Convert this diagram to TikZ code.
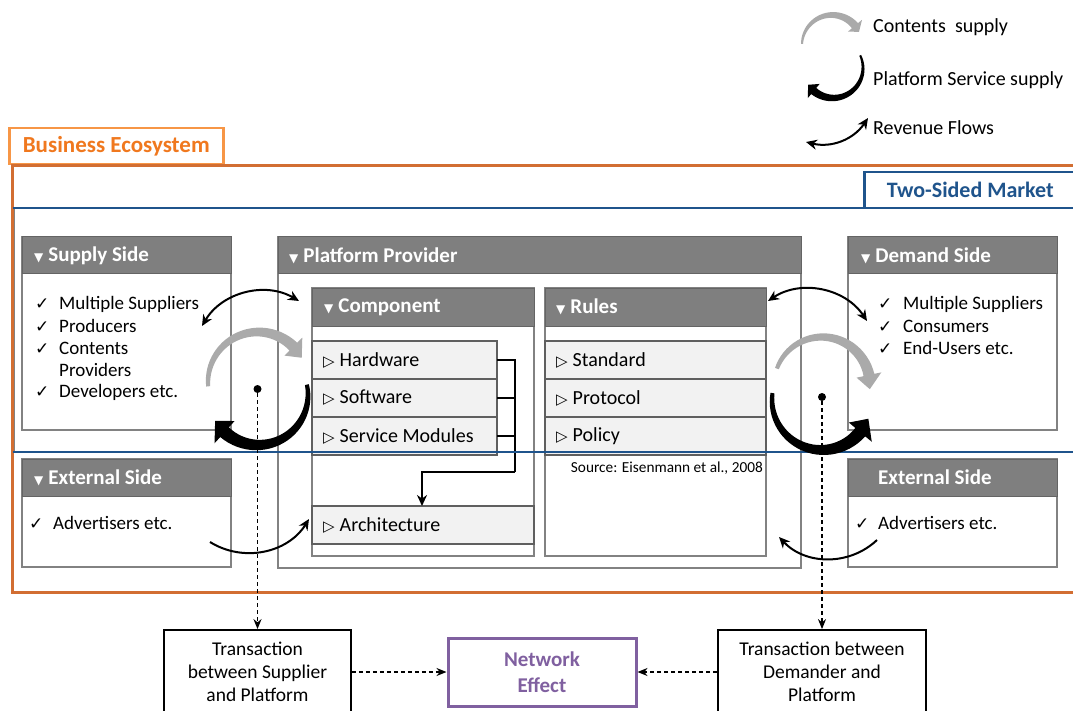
\documentclass[tikz,border=0pt]{standalone}
\usepackage{fontspec}
\setmainfont{Carlito}
\newfontfamily\dv{DejaVu Sans}
\usetikzlibrary{arrows.meta,calc}
\definecolor{orL}{RGB}{247,150,70}
\definecolor{orT}{RGB}{240,120,30}
\definecolor{orD}{RGB}{210,110,50}
\definecolor{blueC}{RGB}{31,84,140}
\definecolor{hgrey}{RGB}{127,127,127}
\definecolor{bdr}{RGB}{100,100,100}
\definecolor{bgrey}{RGB}{130,130,130}
\definecolor{rowF}{RGB}{242,242,242}
\definecolor{rowB}{RGB}{95,95,95}
\definecolor{purp}{RGB}{128,96,160}
\definecolor{agrey}{RGB}{170,170,170}
\newcommand\chk{{\dv\fontsize{17}{17}\selectfont ✓}}
\newcommand\dtri{{\dv\fontsize{12}{12}\selectfont ▼}\hspace{5pt}}
\newcommand\rtri{{\dv\fontsize{15}{15}\selectfont ▷}\hspace{5pt}}
% tapered curved arrow: cx, cy, R, a1, a2, w1, w2, colour, head delta
\newcommand\tarr[9]{%
 \fill[#8] plot[domain=0:1,samples=30,variable=\t]
   ({#1+(#3+((#6)+((#7)-(#6))*\t)/2)*cos((#4)+((#5)-(#4))*\t)},{#2-(#3+((#6)+((#7)-(#6))*\t)/2)*sin((#4)+((#5)-(#4))*\t)})
 -- ({#1+(#3+1.15*(#7))*cos(#5)},{#2-(#3+1.15*(#7))*sin(#5)})
 -- ({#1+(#3)*cos((#5)+(#9))},{#2-(#3)*sin((#5)+(#9))})
 -- ({#1+(#3-1.15*(#7))*cos(#5)},{#2-(#3-1.15*(#7))*sin(#5)})
 -- plot[domain=0:1,samples=30,variable=\t]
   ({#1+(#3-((#7)+((#6)-(#7))*\t)/2)*cos((#5)+((#4)-(#5))*\t)},{#2-(#3-((#7)+((#6)-(#7))*\t)/2)*sin((#5)+((#4)-(#5))*\t)})
 -- cycle;}
\begin{document}
\begin{tikzpicture}[x=1pt,y=-1pt,
  hdr/.style={draw=bdr,fill=hgrey,line width=1,inner sep=0,outer sep=0,anchor=north west},
  body/.style={draw=bgrey,fill=white,line width=1.3,inner sep=0,outer sep=0,anchor=north west},
  rowbox/.style={draw=rowB,fill=rowF,line width=1.3,inner sep=0,outer sep=0,anchor=north west},
  htxt/.style={anchor=west,text=white,font=\bfseries\fontsize{21}{24}\selectfont,inner sep=0},
  ltxt/.style={anchor=west,font=\fontsize{19}{22}\selectfont,inner sep=0},
  rtxt/.style={anchor=west,font=\fontsize{20}{22}\selectfont,inner sep=0},
  gtxt/.style={anchor=west,font=\fontsize{20}{22}\selectfont,inner sep=0},
  rev/.style={line width=2,{Stealth[length=11pt,width=10pt]}-{Stealth[length=11pt,width=10pt]}},
  revone/.style={line width=2,-{Stealth[length=11pt,width=10pt]}},
  dsh/.style={dash pattern=on 4pt off 3pt,line width=1.6,-{Stealth[length=10pt,width=8pt]}},
  tbox/.style={draw=black,line width=1.8,fill=white,align=center,font=\fontsize{19.5}{23}\selectfont,inner sep=0}
]
\useasboundingbox (0,0) rectangle (1073,711);

% ---------- legend ----------
\tarr{832}{45}{30}{178}{40}{2}{8}{agrey}{-14}
\tarr{833}{68}{30}{25}{-130}{2}{8}{black}{-16}
\coordinate (lr1) at (806,142);
\coordinate (lr2) at (868,118);
\draw[rev] (lr1) to[bend right=35] (lr2);
\node[gtxt] (lg1) at (873,27) {Contents\ \ supply};
\node[gtxt] (lg2) at (873,80) {Platform Service supply};
\node[gtxt] (lg3) at (873,128) {Revenue Flows};

% ---------- ecosystem frames ----------
\node[draw=orL,line width=2.5,fill=white,minimum width=214,minimum height=36,anchor=north west,inner sep=0,
      text=orT,font=\bfseries\fontsize{23}{24}\selectfont] (be) at (8,127) {Business Ecosystem};
\draw[orD,line width=3] (12,166) rectangle (1090,592);
\draw[bgrey,line width=0.8] (14,209) -- (14,451);

% ---------- supply side ----------
\node[body,minimum width=209,minimum height=193] (supb) at (22,237) {};
\node[hdr,minimum width=209,minimum height=37] (suph) at (22,237) {};
\node[htxt] (supt) at (34,255.5) {\dtri Supply Side};
\node[ltxt] (s1) at (35,304) {\makebox[24pt][l]{\chk}Multiple Suppliers};
\node[ltxt] (s2) at (35,326) {\makebox[24pt][l]{\chk}Producers};
\node[ltxt] (s3) at (35,348) {\makebox[24pt][l]{\chk}Contents};
\node[ltxt] (s4) at (35,370) {\makebox[24pt][l]{}Providers};
\node[ltxt] (s5) at (35,392) {\makebox[24pt][l]{\chk}Developers etc.};

% ---------- external side left ----------
\node[body,minimum width=209,minimum height=108] (elb) at (22,459) {};
\node[hdr,minimum width=209,minimum height=37] (elh) at (22,459) {};
\node[htxt] (elt) at (34,477.5) {\dtri External Side};
\node[ltxt] (el1) at (29,523) {\makebox[24pt][l]{\chk}Advertisers etc.};

% ---------- demand side ----------
\node[body,minimum width=209,minimum height=193] (demb) at (848,237) {};
\node[hdr,minimum width=209,minimum height=37] (demh) at (848,237) {};
\node[htxt] (demt) at (861,255.5) {\dtri Demand Side};
\node[ltxt] (d1) at (878,304) {\makebox[25pt][l]{\chk}Multiple Suppliers};
\node[ltxt] (d2) at (878,326) {\makebox[25pt][l]{\chk}Consumers};
\node[ltxt] (d3) at (878,348) {\makebox[25pt][l]{\chk}End-Users etc.};

% ---------- external side right ----------
\node[body,minimum width=209,minimum height=108] (erb) at (848,459) {};
\node[hdr,minimum width=209,minimum height=37] (erh) at (848,459) {};
\node[htxt] (ert) at (878,477.5) {External Side};
\node[ltxt] (er1) at (855,523) {\makebox[23pt][l]{\chk}Advertisers etc.};

% ---------- platform provider ----------
\node[body,minimum width=523,minimum height=331] (ppb) at (278,237) {};
\node[hdr,minimum width=523,minimum height=37] (pph) at (278,237) {};
\node[htxt] (ppt) at (289,255.5) {\dtri Platform Provider};

% component
\node[body,minimum width=222,minimum height=268] (cob) at (312,288) {};
\node[hdr,minimum width=222,minimum height=38] (coh) at (312,288) {};
\node[htxt] (cot) at (324,307) {\dtri Component};
\node[rowbox,minimum width=185,minimum height=38] (hw) at (312,341) {};
\node[rowbox,minimum width=185,minimum height=38] (sw) at (312,379) {};
\node[rowbox,minimum width=185,minimum height=38] (sm) at (312,417) {};
\node[rowbox,minimum width=222,minimum height=38] (ar) at (312,506) {};
\node[rtxt] (hwt) at (323,360) {\rtri Hardware};
\node[rtxt] (swt) at (323,398) {\rtri Software};
\node[rtxt] (smt) at (323,436) {\rtri Service Modules};
\node[rtxt] (art) at (323,525) {\rtri Architecture};

% rules
\node[body,minimum width=221,minimum height=268] (rub) at (545,288) {};
\node[hdr,minimum width=221,minimum height=38] (ruh) at (545,288) {};
\node[htxt] (rut) at (556,307) {\dtri Rules};
\node[rowbox,minimum width=221,minimum height=38] (st) at (545,341) {};
\node[rowbox,minimum width=221,minimum height=38] (pr) at (545,379) {};
\node[rowbox,minimum width=221,minimum height=38] (po) at (545,417) {};
\node[rtxt] (stt) at (556,360) {\rtri Standard};
\node[rtxt] (prt) at (556,398) {\rtri Protocol};
\node[rtxt] (pot) at (556,436) {\rtri Policy};
\node[anchor=east,inner sep=0,font=\fontsize{15.3}{17}\selectfont] (src) at (763,468) {Source: Eisenmann et al., 2008};

% bracket connector
\coordinate (bk) at (515,472);
\draw[line width=1.8] (hw.east) -| (bk);
\draw[line width=1.8] (sw.east) -- (sw.east -| bk);
\draw[line width=1.8] (sm.east) -- (sm.east -| bk);
\draw[line width=1.8,-{Stealth[length=11pt,width=10pt]}] (bk) -| ($(ar.north west)+(110,0)$);

% ---------- two-sided market lines ----------
\draw[blueC,line width=2.5] (13,208) -- (1090,208);
\draw[blueC,line width=2.5] (13,452) -- (1090,452);
\node[draw=blueC,line width=2.5,fill=white,minimum width=220,minimum height=36,anchor=north west,inner sep=0,
      text=blueC,font=\bfseries\fontsize{22}{24}\selectfont] (tsm) at (863,171) {\hspace{-8pt}Two-Sided Market};

% ---------- big curved arrows ----------
\tarr{258}{382}{50}{185}{45}{4}{11}{agrey}{-16}
\tarr{258}{395}{50}{12}{-132}{4}{13}{black}{-17}
\tarr{822}{385}{48}{160}{12}{4}{11}{agrey}{-17}
\tarr{822}{400}{50}{172}{320}{4}{13}{black}{18}

% ---------- revenue flows ----------
\coordinate (ra1) at (202,326);
\coordinate (ra2) at (299,301);
\draw[rev] (ra1) to[bend left=45] (ra2);
\coordinate (rb1) at (768,301);
\coordinate (rb2) at (867,321);
\draw[rev] (rb1) to[bend left=45] (rb2);
\coordinate (rc1) at (210,542);
\coordinate (rc2) at (309,519);
\draw[revone] (rc1) to[bend right=45] (rc2);
\coordinate (rd1) at (877,540);
\coordinate (rd2) at (779,537);
\draw[revone] (rd1) to[bend left=45] (rd2);

% ---------- transactions ----------
\node[tbox,minimum width=187,minimum height=84] (trl) at (257.5,672) {Transaction\\between Supplier\\and Platform};
\node[tbox,minimum width=208,minimum height=84] (trr) at (822,672) {Transaction between\\Demander and\\Platform};
\node[draw=purp,line width=3,fill=white,minimum width=188,minimum height=68,inner sep=0,align=center,
      text=purp,font=\bfseries\fontsize{21}{26}\selectfont] (ne) at (542,672) {Network\\Effect};
\node[circle,fill=black,inner sep=0,minimum size=8] (dl) at (257.5,389) {};
\node[circle,fill=black,inner sep=0,minimum size=8] (dr) at (822,397) {};
\draw[dsh] (dl) -- (dl |- trl.north);
\draw[dsh] (dr) -- (dr |- trr.north);
\draw[dsh] (trl.east) -- (ne.west);
\draw[dsh] (trr.west) -- (ne.east);
\end{tikzpicture}
\end{document}
